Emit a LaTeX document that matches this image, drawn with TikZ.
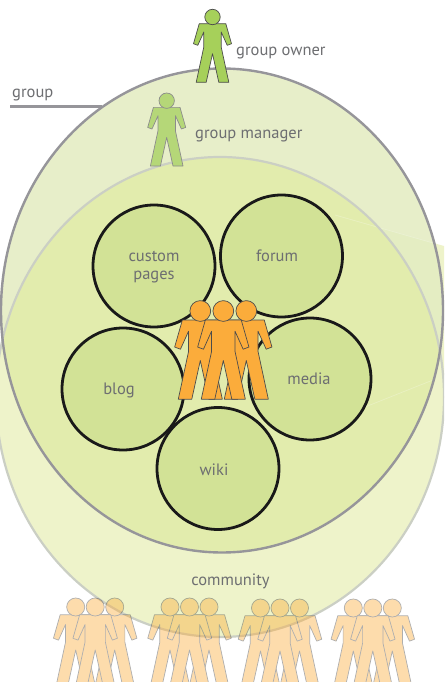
\documentclass[tikz,border=0pt]{standalone}
\usepackage{fontspec}
\setmainfont{PT Sans}
\definecolor{txtgray}{HTML}{6D6E71}
\definecolor{ringfill}{HTML}{E7EEC9}
\definecolor{ringtint}{HTML}{E4EDC2}
\definecolor{commfill}{HTML}{EEF3CA}
\definecolor{overlapfill}{HTML}{E2ECAD}
\definecolor{topicfill}{HTML}{D2E296}
\definecolor{grpline}{HTML}{96959A}
\definecolor{commline}{HTML}{CBCFC4}
\definecolor{ownerfill}{HTML}{A6D05A}
\definecolor{mgrfill}{HTML}{B5D778}
\definecolor{memberfill}{HTML}{FBAC3B}
\newcommand{\figperson}[5]{%
  \begin{scope}[shift={(#1,#2)},scale=#3]
    \draw[fill=#4,draw=#5,line width=0.7pt,line join=round]
      (-13.3,6.7) -- (13.3,6.7) -- (19,26.7) -- (14.7,28.3) -- (8.7,15) -- (8.7,30)
      -- (16.3,65.3) -- (6.3,65.3) -- (0,36.7) -- (-6.3,65.3) -- (-16.3,65.3)
      -- (-8.7,30) -- (-8.7,15) -- (-14.7,28.3) -- (-19,26.7) -- cycle;
    \draw[fill=#4,draw=#5,line width=0.7pt] (0,0) circle (7.7);
  \end{scope}}
\newcommand{\crowd}[2]{%
  \begin{scope}[transparency group,opacity=.42]
    \figperson{#1}{#2}{1.17}{memberfill}{black!75}
    \figperson{#1+39}{#2}{1.17}{memberfill}{black!75}
    \figperson{#1+19.5}{#2}{1.17}{memberfill}{black!75}
  \end{scope}}
\tikzset{
  tag/.style={text=txtgray,font=\fontsize{16.5}{18}\selectfont,inner sep=0pt,align=center},
  topic/.style={circle,draw=black!90,fill=topicfill,line width=2.8pt,minimum size=122pt,inner sep=0pt},
  leader/.style={draw=grpline,line width=3pt},
  glint/.style={white,opacity=.25,line width=0.7pt}
}
\begin{document}
\begin{tikzpicture}[x=1pt,y=-1pt]
  \useasboundingbox (0,0) rectangle (444,682);
  \clip (0,0) rectangle (444,682);
  \fill[white] (0,0) rectangle (444,682);
  % faint wedge behind the ellipses, on the right
  \fill[commfill] (335,215) -- (444,246) -- (444,375) -- (365,407) -- cycle;
  % group and community ellipses
  \fill[ringfill] (222,310.5) ellipse [x radius=222pt,y radius=242.5pt];
  \begin{scope}
    \clip (222,310.5) ellipse [x radius=222pt,y radius=242.5pt];
    \fill[ringtint] (335,215) -- (444,246) -- (444,375) -- (365,407) -- cycle;
  \end{scope}
  \fill[commfill] (220,397) ellipse [x radius=224pt,y radius=240pt];
  \begin{scope}
    \clip (222,310.5) ellipse [x radius=222pt,y radius=242.5pt];
    \fill[overlapfill] (220,397) ellipse [x radius=224pt,y radius=240pt];
  \end{scope}
  \draw[glint] (335,215) -- (433,243);
  \draw[glint] (365,407) -- (433,380);
  \draw[commline,line width=2.2pt] (220,397) ellipse [x radius=224pt,y radius=240pt];
  \draw[grpline,line width=2.4pt] (222,310.5) ellipse [x radius=221pt,y radius=242pt];
  % leader
  \coordinate (leadstart) at (10,106.5);
  \coordinate (leadend) at (102,106.5);
  \draw[leader] (leadstart) -- (leadend);
  \node[tag,anchor=west] (grouptxt) at (12,95) {group};
  % people
  \figperson{212.5}{17}{1}{ownerfill}{black!70}
  \figperson{166.7}{100.7}{1}{mgrfill}{black!45}
  \node[tag,anchor=west] (ownertxt) at (236,53) {group owner};
  \node[tag,anchor=west] (managertxt) at (195,136) {group manager};
  % topics
  \node[topic] (media) at (310,379) {};
  \node[topic] (custom) at (154,266) {};
  \node[topic] (forum) at (281.5,256) {};
  \node[topic] (blog) at (123,389) {};
  \node[topic] (wiki) at (218,468.5) {};
  \node[tag] (customtxt) at (154,267) {custom\\pages};
  \node[tag] (forumtxt) at (277,256) {forum};
  \node[tag] (blogtxt) at (119,390) {blog};
  \node[tag] (mediatxt) at (309,379) {media};
  \node[tag] (wikitxt) at (214,470) {wiki};
  \node[tag] (communitytxt) at (230.5,581) {community};
  % members
  \figperson{200.3}{311}{1.35}{memberfill}{black!70}
  \figperson{246.3}{311}{1.35}{memberfill}{black!70}
  \figperson{223.3}{311}{1.35}{memberfill}{black!70}
  % community crowd
  \crowd{75.7}{607}
  \crowd{170}{607}
  \crowd{260.5}{608}
  \crowd{353.3}{608}
\end{tikzpicture}
\end{document}
